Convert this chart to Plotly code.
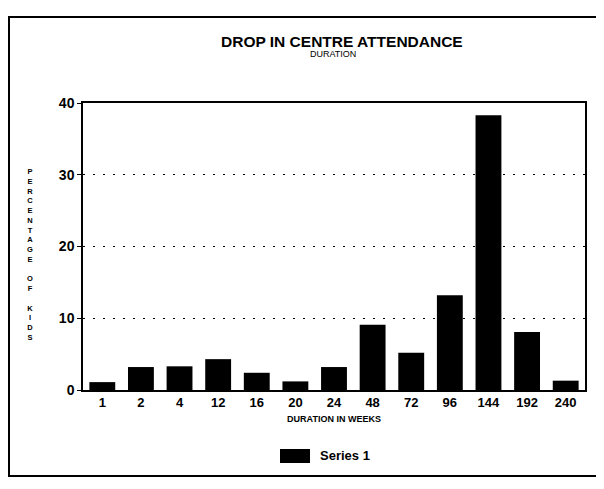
import plotly.graph_objects as go

categories = ["1", "2", "4", "12", "16", "20", "24", "48", "72", "96", "144", "192", "240"]
series_1 = [1.1, 3.2, 3.3, 4.3, 2.4, 1.2, 3.2, 9.1, 5.2, 13.2, 38.3, 8.1, 1.3]
y_ticks = [0, 10, 20, 30, 40]

# page has an 8px body margin: work in screen pixels, shift by OFF
OFF = 8
W, H = 604 - OFF, 489 - OFF
L, R, T, B = 83, 585, 103, 390  # screen pixels of plot area

def px(p):
    return (p - L) / (R - L)

def py(q):
    return (B - q) / (B - T)

font_b = "Liberation Sans"

fig = go.Figure()
fig.add_trace(go.Bar(
    x=categories, y=series_1, name="Series 1",
    marker=dict(color="black", line=dict(width=0)),
    showlegend=False,
))

ytitle = "<br>".join(list("PERCENTAGE")) + "<br> <br>" + "<br>".join(list("OF")) + "<br> <br>" + "<br>".join(list("KIDS"))

fig.update_layout(
    width=W, height=H,
    margin=dict(l=L - OFF, r=604 - R, t=T - OFF, b=489 - B),
    paper_bgcolor="white", plot_bgcolor="white",
    bargap=0.33,
    showlegend=False,
    xaxis=dict(
        type="category", showline=True, linecolor="black", linewidth=1.5, mirror=True,
        showgrid=False, ticks="", tickfont=dict(family=font_b, size=13, color="black", weight="bold"),
        title=dict(text="DURATION IN WEEKS", font=dict(family=font_b, size=9, color="black", weight="bold"), standoff=6),
    ),
    yaxis=dict(
        range=[0, 40], tickvals=y_ticks, showline=True, linecolor="black", linewidth=1.5, mirror=True,
        showgrid=True, gridcolor="black", gridwidth=1.2, griddash="2px,8px",
        ticks="outside", ticklen=4, tickcolor="black",
        tickfont=dict(family=font_b, size=14, color="black", weight="bold"),
        zeroline=False,
    ),
    annotations=[
        dict(text="DROP IN CENTRE ATTENDANCE", x=px(342), y=py(41), xref="paper", yref="paper",
             showarrow=False, xanchor="center", yanchor="middle",
             font=dict(family=font_b, size=15.5, color="black", weight="bold")),
        dict(text="DURATION", x=px(333), y=py(54), xref="paper", yref="paper",
             showarrow=False, xanchor="center", yanchor="middle",
             font=dict(family=font_b, size=9, color="black")),
        dict(text=ytitle, x=px(30), y=py(254), xref="paper", yref="paper",
             showarrow=False, xanchor="center", yanchor="middle",
             font=dict(family=font_b, size=7.5, color="black", weight="bold")),
        dict(text="Series 1", x=px(318), y=py(456), xref="paper", yref="paper",
             showarrow=False, xanchor="left", yanchor="middle",
             font=dict(family=font_b, size=13, color="black", weight="bold")),
    ],
    shapes=[
        dict(type="rect", xref="paper", yref="paper", x0=px(9), x1=px(601), y0=py(476), y1=py(17),
             line=dict(color="black", width=2)),
        dict(type="rect", xref="paper", yref="paper", x0=px(280), x1=px(310), y0=py(463), y1=py(449),
             line=dict(width=0), fillcolor="black"),
    ],
)

fig.write_html("out.html")
